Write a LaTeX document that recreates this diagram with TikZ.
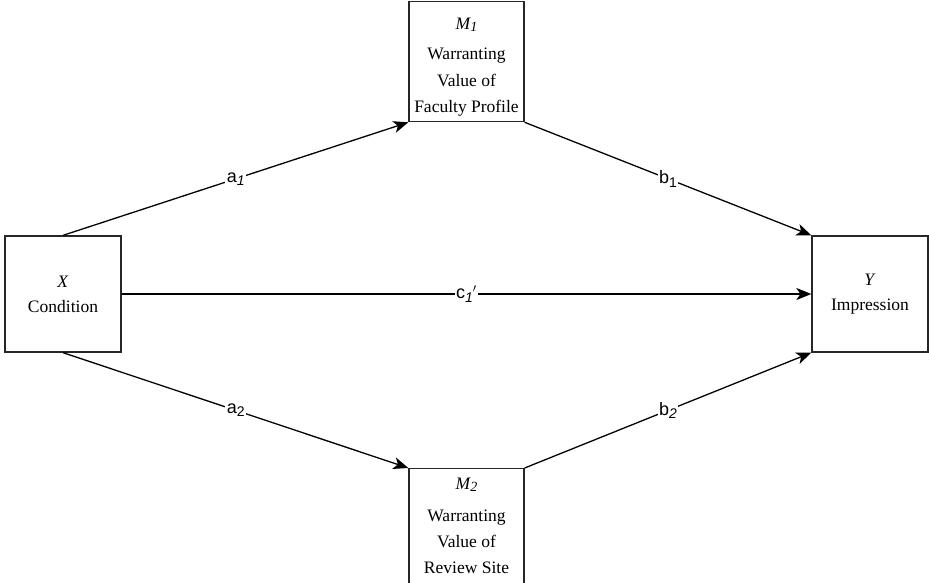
\documentclass[tikz,border=0pt]{standalone}
\usepackage{fontspec}
\setmainfont{Liberation Serif}
\setsansfont{Liberation Sans}
\usetikzlibrary{arrows.meta}
\newcommand{\mysub}[1]{\raisebox{-0.35ex}{\fontsize{14}{14}\selectfont #1}}
\begin{document}
\begin{tikzpicture}[x=1pt,y=-1pt,
  boxnode/.style={draw, line width=1.3pt, draw=black!85, inner sep=0pt, align=center,
    font=\fontsize{17.5}{25}\selectfont},
  boxtext/.style={align=center, anchor=north, inner sep=0pt, font=\fontsize{17.5}{26}\selectfont},
  conn/.style={line width=1.3pt, -{Stealth[length=15pt,width=12pt,inset=4pt]}},
  lbl/.style={midway, fill=white, inner sep=1.5pt, font=\sffamily\fontsize{18}{20}\selectfont}]
\useasboundingbox (0,0) rectangle (929,583);
\node[boxnode, minimum width=116pt, minimum height=116pt] (X) at (63,294)
  {\textit{X}\\Condition};
\node[boxnode, minimum width=116pt, minimum height=116pt] (Y) at (870,294)
  {\textit{Y}\\Impression};
\node[boxnode, minimum width=115pt, minimum height=120pt, anchor=north] (M1) at (466.5,1) {};
\node[boxtext] (M1t) at (466.5,17.5)
  {\textit{M\mysub{1}}\\[4.5pt]Warranting\\[0.5pt]Value of\\Faculty Profile};
\node[boxnode, minimum width=115pt, minimum height=120pt, anchor=north] (M2) at (466.5,468) {};
\node[boxtext] (M2t) at (466.5,477.5)
  {\textit{M\mysub{2}}\\[6pt]Warranting\\Value of\\Review Site};
\draw[conn] (X.north) -- node[lbl] {a\mysub{\textit{1}}} (M1.south west);
\draw[conn] (M1.south east) -- node[lbl] {b\mysub{1}} (Y.north west);
\draw[conn] (X.east) -- node[lbl] {c\mysub{\textit{1}}$'$} (Y.west);
\draw[conn] (X.south) -- node[lbl] {a\mysub{2}} (M2.north west);
\draw[conn] (M2.north east) -- node[lbl] {b\mysub{\textit{2}}} (Y.south west);
\end{tikzpicture}
\end{document}
